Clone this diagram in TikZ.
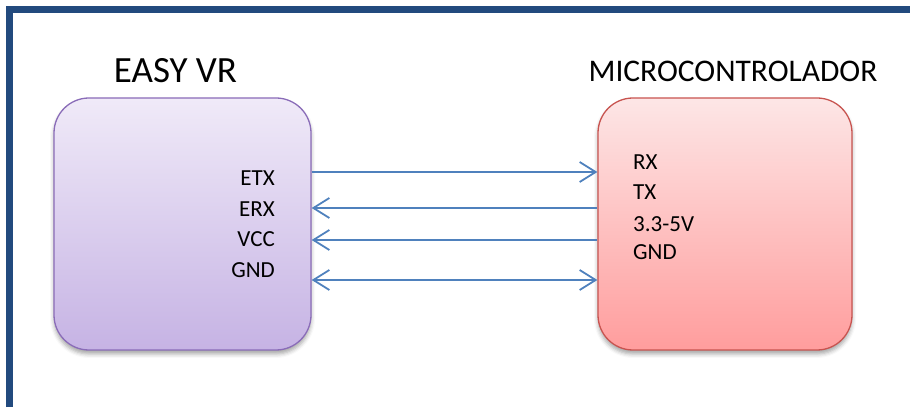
\documentclass[tikz,border=0pt]{standalone}
\usepackage{fontspec}
\setmainfont{Carlito}
\usepackage{tikz}
\usetikzlibrary{arrows.meta,calc,shadows.blur}

\definecolor{frameblue}{HTML}{224A7E}
\definecolor{linkblue}{HTML}{4F81BD}
\definecolor{evrtop}{HTML}{F0EAF8}
\definecolor{evrbot}{HTML}{C6B3E4}
\definecolor{evredge}{HTML}{8A6CB8}
\definecolor{mcutop}{HTML}{FDE6E6}
\definecolor{mcubot}{HTML}{FF9D9D}
\definecolor{mcuedge}{HTML}{C85450}

\tikzset{
	block/.style={rectangle, rounded corners=35pt, line width=1.3pt, inner sep=0pt,
		blur shadow={shadow xshift=0pt, shadow yshift=-4pt, shadow blur radius=4pt, shadow opacity=35}},
	pin/.style={font=\fontsize{23}{25}\selectfont, inner sep=0pt},
	link/.style={draw=linkblue, line width=1.8pt}
}

\begin{document}
\begin{tikzpicture}[x=1pt, y=1pt, >={Straight Barb[length=16pt, width=20pt]}]
			\useasboundingbox (0,0) rectangle (910,407);

			\def\BW{257}
			\def\BH{252}

			% frame
			\draw[frameblue, line width=7pt] (9.5,0) -- (9.5,397.5) -- (910,397.5);

			% blocks
			\node (EVR) [block, draw=evredge, top color=evrtop, bottom color=evrbot, minimum width=\BW, minimum height=\BH] at (182.5,183) {};
			\node (MCU) [block, draw=mcuedge, top color=mcutop, bottom color=mcubot, minimum width=254, minimum height=\BH] at (725,183) {};

			\node (EVRtitle) [anchor=base, inner sep=0pt, font=\fontsize{37}{40}\selectfont] at (175.5,324) {EASY VR};
			\node (MCUtitle) [anchor=base, inner sep=0pt, font=\fontsize{31.5}{34}\selectfont] at (733,325) {MICROCONTROLADOR};

			% pins
			\node (ETX) [pin, anchor=base east] at (275,221) {ETX};
			\node (ERX) [pin, anchor=base east] at (275,190) {ERX};
			\node (VCC) [pin, anchor=base east] at (275,160) {VCC};
			\node (GNDa) [pin, anchor=base east] at (275,129) {GND};

			\node (RX) [pin, anchor=base west] at (633,237) {RX};
			\node (TX) [pin, anchor=base west] at (633,207) {TX};
			\node (PWR) [pin, anchor=base west] at (633,175) {3.3-5V};
			\node (GNDb) [pin, anchor=base west] at (633,147) {GND};

			% links
			\draw[link, ->] (EVR.east |- 0,235) -- (MCU.west |- 0,235);
			\draw[link, <-] (EVR.east |- 0,199) -- (MCU.west |- 0,199);
			\draw[link, <-] (EVR.east |- 0,167) -- (MCU.west |- 0,167);
			\draw[link, <->] (EVR.east |- 0,127) -- (MCU.west |- 0,127);
		\end{tikzpicture}
\end{document}
